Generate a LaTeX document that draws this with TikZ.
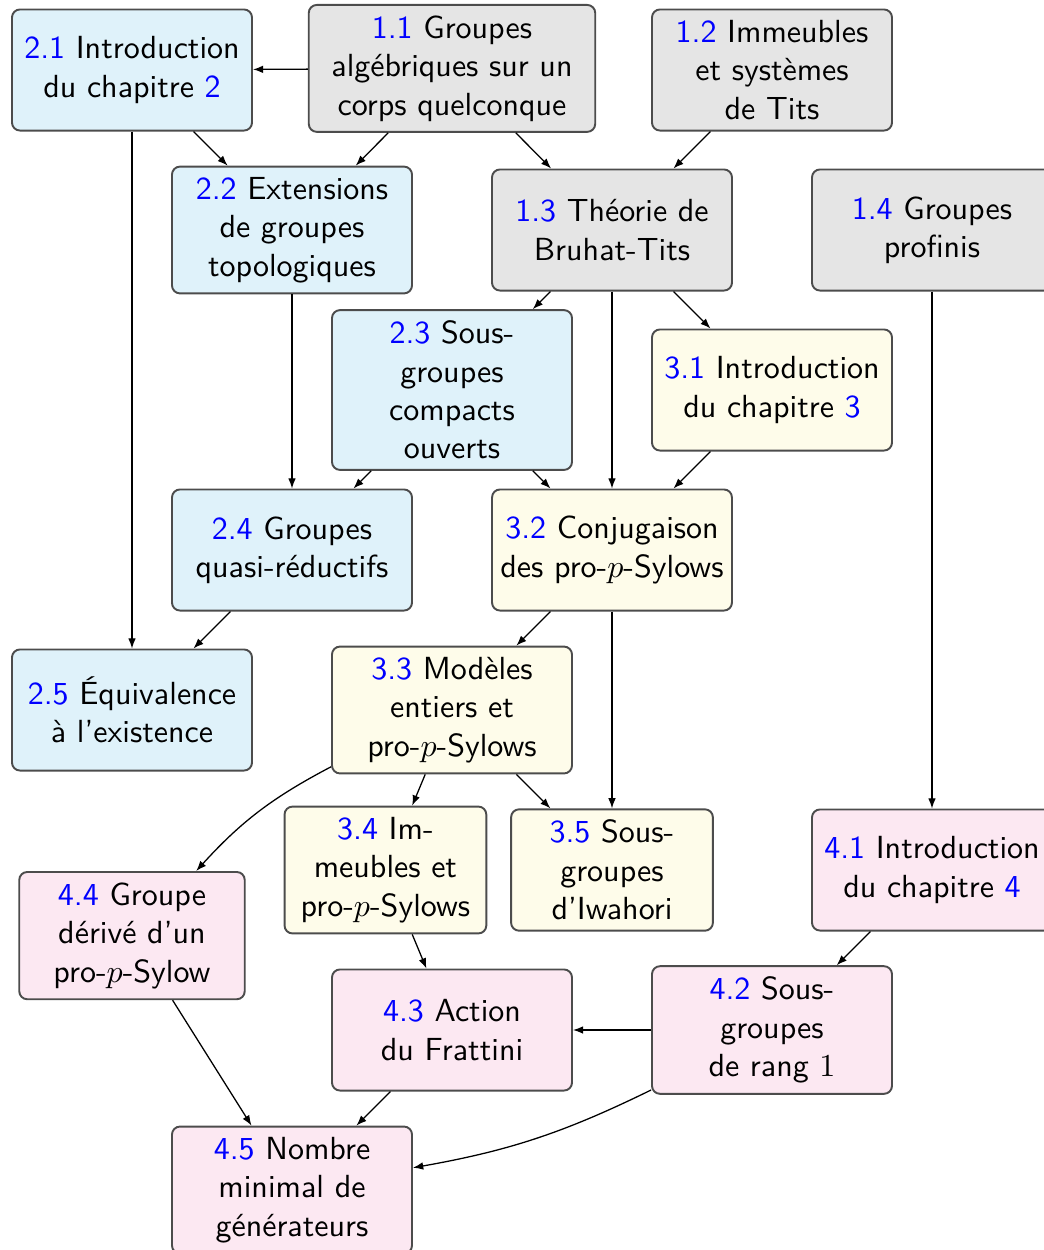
\documentclass[tikz,border=0pt]{standalone}
\usepackage{fontspec}
\usetikzlibrary{arrows.meta}
\definecolor{chapOneFill}{RGB}{229,229,229}
\definecolor{chapTwoFill}{RGB}{223,242,250}
\definecolor{chapThreeFill}{RGB}{254,252,234}
\definecolor{chapFourFill}{RGB}{252,232,242}
\newcommand{\secNum}[1]{\textcolor{blue}{#1}}
\tikzset{
    % Boites des sections
    secbox/.style={draw=black!70, line width=0.6pt, rounded corners=2.5pt,
                   align=center, text width=2.45cm, minimum height=1.33cm,
                   inner xsep=2.65pt, inner ysep=3.33pt, font=\sffamily},
    chapOne/.style={secbox, fill=chapOneFill},
    chapTwo/.style={secbox, fill=chapTwoFill},
    chapThree/.style={secbox, fill=chapThreeFill},
    chapFour/.style={secbox, fill=chapFourFill},
    % Dependances
    dep/.style={-{Latex[length=3.2pt,width=2.4pt]}, line width=0.4pt}
}

\begin{document}
\begin{tikzpicture}[x=50pt, y=-50pt]
    \useasboundingbox (-0.825,-0.4375) rectangle (5.70,7.375);

    % Chapitre 1
    \node[chapOne, text width=2.96cm] (s11) at (2,-0.01) {\secNum{1.1} Groupes\\alg\'ebriques sur un\\corps quelconque};
    \node[chapOne] (s12) at (4,0) {\secNum{1.2} Immeubles\\et syst\`emes\\de Tits};
    \node[chapOne] (s13) at (3,1) {\secNum{1.3} Th\'eorie de\\Bruhat-Tits};
    \node[chapOne] (s14) at (5,1) {\secNum{1.4} Groupes\\profinis};

    % Chapitre 2
    \node[chapTwo] (s21) at (0,0) {\secNum{2.1} Introduction\\du chapitre \secNum{2}};
    \node[chapTwo] (s22) at (1,1) {\secNum{2.2} Extensions\\de groupes\\topologiques};
    \node[chapTwo] (s23) at (2,2) {\secNum{2.3} Sous-\\groupes\\compacts\\ouverts};
    \node[chapTwo] (s24) at (1,3) {\secNum{2.4} Groupes\\quasi-r\'eductifs};
    \node[chapTwo] (s25) at (0,4) {\secNum{2.5} \'Equivalence\\\`a l'existence};

    % Chapitre 3
    \node[chapThree] (s31) at (4,2) {\secNum{3.1} Introduction\\du chapitre \secNum{3}};
    \node[chapThree, text width=2.6cm, inner xsep=0.5pt] (s32) at (3,3) {\secNum{3.2} Conjugaison\\\mbox{des pro-$p$-Sylows}};
    \node[chapThree] (s33) at (2,4) {\secNum{3.3} Mod\`eles\\entiers et\\pro-$p$-Sylows};
    \node[chapThree, text width=2.03cm] (s34) at (1.584,5) {\secNum{3.4} Im-\\meubles et\\pro-$p$-Sylows};
    \node[chapThree, text width=2.03cm] (s35) at (3,5) {\secNum{3.5} Sous-\\groupes\\d'Iwahori};

    % Chapitre 4
    \node[chapFour] (s41) at (5,5) {\secNum{4.1} Introduction\\du chapitre \secNum{4}};
    \node[chapFour] (s42) at (4,6) {\secNum{4.2} Sous-\\groupes\\de rang $1$};
    \node[chapFour] (s43) at (2,6) {\secNum{4.3} Action\\du Frattini};
    \node[chapFour, text width=2.29cm] (s44) at (0,5.41) {\secNum{4.4} Groupe\\d\'eriv\'e d'un\\pro-$p$-Sylow};
    \node[chapFour] (s45) at (1,7) {\secNum{4.5} Nombre\\minimal de\\g\'en\'erateurs};

    % Dependances
    \draw[dep] (s11) -- (s21);
    \draw[dep] (s21) -- (s22);
    \draw[dep] (s11) -- (s22);
    \draw[dep] (s11) -- (s13);
    \draw[dep] (s12) -- (s13);
    \draw[dep] (s21) -- (s25);
    \draw[dep] (s22) -- (s24);
    \draw[dep] (s13) -- (s23);
    \draw[dep] (s13) -- (s32);
    \draw[dep] (s13) -- (s31);
    \draw[dep] (s23) -- (s24);
    \draw[dep] (s23) -- (s32);
    \draw[dep] (s31) -- (s32);
    \draw[dep] (s14) -- (s41);
    \draw[dep] (s24) -- (s25);
    \draw[dep] (s32) -- (s33);
    \draw[dep] (s32) -- (s35);
    \draw[dep] (s33) -- (s34);
    \draw[dep] (s33) -- (s35);
    \draw[dep] (s33) to[bend right=10] (s44);
    \draw[dep] (s34) -- (s43);
    \draw[dep] (s41) -- (s42);
    \draw[dep] (s42) -- (s43);
    \draw[dep] (s44) -- (s45);
    \draw[dep] (s43) -- (s45);
    \draw[dep] (s42) to[bend left=8] (s45);
\end{tikzpicture}
\end{document}
